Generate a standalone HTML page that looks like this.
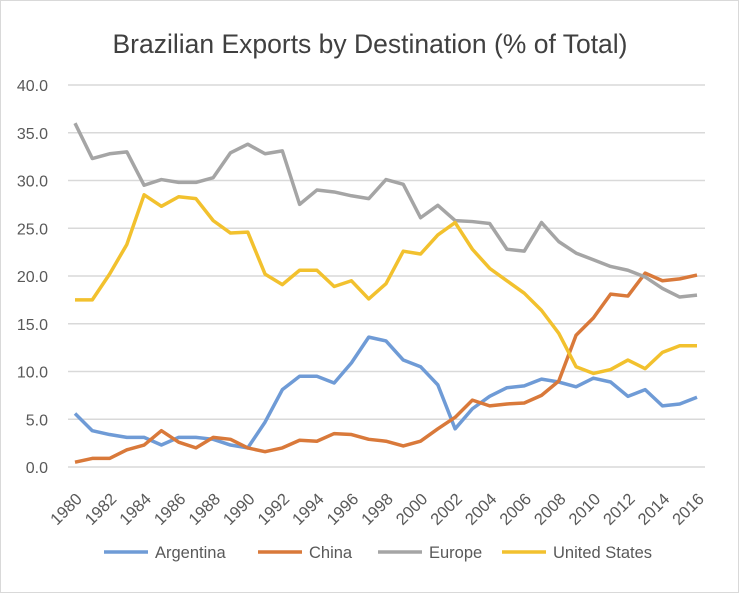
<!DOCTYPE html>
<html><head><meta charset="utf-8"><style>
body{margin:0;background:#fff;font-family:"Liberation Sans",sans-serif;}
svg{display:block}
</style></head><body>
<svg id="chart" width="739" height="593">
<rect x="0.5" y="0.5" width="738" height="592" fill="#fff" stroke="#d9d9d9"/>
<text x="370" y="53" text-anchor="middle" font-size="26.5" fill="#404040">Brazilian Exports by Destination (% of Total)</text>
<g id="grid"></g><g id="yticks"></g><g id="xticks"></g><g id="series"></g><g id="legend"></g>
</svg>
<script>
const years=[];for(let y=1980;y<=2016;y++)years.push(y);
const yTicks=[0,5,10,15,20,25,30,35,40];
const seriesNames=["Argentina","China","Europe","United States"];
const seriesColors=["#6f9bd6","#d9793a","#a5a5a5","#f2c12e"];
const argentina=[5.6,3.8,3.4,3.1,3.1,2.3,3.1,3.1,2.9,2.3,2.0,4.7,8.1,9.5,9.5,8.8,10.9,13.6,13.2,11.2,10.5,8.6,4.0,6.1,7.4,8.3,8.5,9.2,8.9,8.4,9.3,8.9,7.4,8.1,6.4,6.6,7.3];
const china=[0.5,0.9,0.9,1.8,2.3,3.8,2.6,2.0,3.1,2.9,2.0,1.6,2.0,2.8,2.7,3.5,3.4,2.9,2.7,2.2,2.7,4.0,5.2,7.0,6.4,6.6,6.7,7.5,9.0,13.8,15.6,18.1,17.9,20.3,19.5,19.7,20.1];
const europe=[36.0,32.3,32.8,33.0,29.5,30.1,29.8,29.8,30.3,32.9,33.8,32.8,33.1,27.5,29.0,28.8,28.4,28.1,30.1,29.6,26.1,27.4,25.8,25.7,25.5,22.8,22.6,25.6,23.6,22.4,21.7,21.0,20.6,19.9,18.7,17.8,18.0];
const unitedStates=[17.5,17.5,20.2,23.3,28.5,27.3,28.3,28.1,25.8,24.5,24.6,20.2,19.1,20.6,20.6,18.9,19.5,17.6,19.2,22.6,22.3,24.3,25.6,22.8,20.8,19.5,18.2,16.4,14.0,10.5,9.8,10.2,11.2,10.3,12.0,12.7,12.7];
const allSeries=[argentina,china,europe,unitedStates];
const NS="http://www.w3.org/2000/svg";
const X0=75,X1=697,Y0=467,Y1=85,GL=68,GR=705;
const xs=i=>X0+(X1-X0)*i/(years.length-1);
const ys=v=>Y0-(Y0-Y1)*v/40;
function mk(t,a,p){const e=document.createElementNS(NS,t);for(const k in a)e.setAttribute(k,a[k]);p.appendChild(e);return e;}
const grid=document.getElementById('grid'),yt=document.getElementById('yticks'),xt=document.getElementById('xticks'),sg=document.getElementById('series'),lg=document.getElementById('legend');
yTicks.forEach(v=>{
 const l=mk('line',{x1:GL,x2:GR,y1:ys(v),y2:ys(v),stroke:'#d9d9d9','stroke-width':1.5},grid);
 
 
 const t=mk('text',{x:48,y:ys(v)+6,'text-anchor':'end','font-size':16,fill:'#595959'},yt);
 t.textContent=v.toFixed(1);
 
 
});
years.forEach((y,i)=>{
 if(i%2)return;
 const x=xs(i)+8,yy=500;
 const t=mk('text',{x:x,y:yy,'text-anchor':'end','font-size':16.5,fill:'#595959',transform:`rotate(-45 ${x} ${yy})`},xt);
 t.textContent=y;
 
 
});
allSeries.forEach((s,k)=>{
 const p=mk('polyline',{points:s.map((v,i)=>xs(i)+','+ys(v)).join(' '),fill:'none',stroke:seriesColors[k],'stroke-width':3.5,'stroke-linejoin':'round'},sg);
 
 
});
const legX=[104,258,378,502];
seriesNames.forEach((n,k)=>{
 const l=mk('line',{x1:legX[k],x2:legX[k]+44,y1:552,y2:552,stroke:seriesColors[k],'stroke-width':3.5},lg);
 
 
 const t=mk('text',{x:legX[k]+51,y:558,'font-size':16.5,fill:'#595959'},lg);
 t.textContent=n;
 
 
});
</script>
</body></html>
